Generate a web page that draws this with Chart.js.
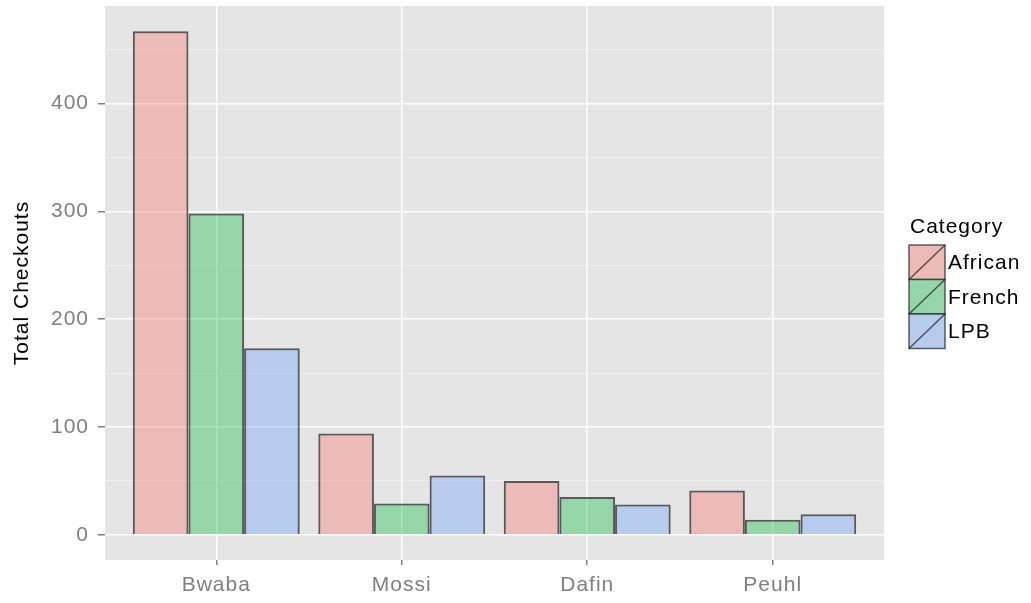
<!DOCTYPE html>
<html>
<head>
<meta charset="utf-8">
<script src="https://cdn.jsdelivr.net/npm/chart.js@4/dist/chart.umd.min.js"></script>
<style>
  html, body { margin: 0; padding: 0; background: #fff; }
  #wrap { width: 1031px; height: 603px; }
</style>
</head>
<body>
<div id="wrap"><canvas id="myChart" width="1031" height="603"></canvas></div>
<script>
// data
const categories = ["Bwaba", "Mossi", "Dafin", "Peuhl"];
const seriesNames = ["African", "French", "LPB"];
const african = [467, 94, 50, 41];
const french = [298, 29, 35, 14];
const lpb = [173, 55, 28, 19];
const yTicks = [0, 100, 200, 300, 400];
const yMinor = [50, 150, 250, 350, 450];

const fills = ["rgba(248,118,109,0.38)", "rgba(0,186,56,0.35)", "rgba(97,156,255,0.35)"];
const values = [african, french, lpb];
const font = "'Liberation Sans', Arial, sans-serif";
const edge = "rgba(30,30,30,0.7)";

// panel background + custom legend
const panelBg = {
  id: "panelBg",
  beforeLayout(chart) { chart.ctx.letterSpacing = "1px"; },
  beforeDraw(chart) {
    const { ctx, chartArea: a } = chart;
    ctx.letterSpacing = "1px";
    ctx.save();
    ctx.fillStyle = "#E5E5E5";
    ctx.fillRect(a.left, a.top, a.right - a.left, a.bottom - a.top);
    ctx.restore();
  },
  afterDraw(chart) {
    const ctx = chart.ctx;
    ctx.save();
    ctx.font = "21px " + font;
    ctx.fillStyle = "#000";
    ctx.textBaseline = "middle";
    ctx.fillText("Category", 910, 227);
    const x = 909, w = 36, h = 34.5;
    seriesNames.forEach((name, i) => {
      const y = 245 + i * h;
      ctx.fillStyle = "#E5E5E5";
      ctx.fillRect(x, y, w, h);
      ctx.fillStyle = fills[i];
      ctx.fillRect(x, y, w, h);
      ctx.strokeStyle = edge;
      ctx.lineWidth = 1.5;
      ctx.strokeRect(x, y, w, h);
      ctx.beginPath();
      ctx.moveTo(x, y + h);
      ctx.lineTo(x + w, y);
      ctx.stroke();
      ctx.fillStyle = "#000";
      ctx.fillText(name, x + w + 3, y + h / 2 + 1);
    });
    ctx.restore();
  }
};

new Chart(document.getElementById("myChart").getContext("2d"), {
  type: "bar",
  data: {
    datasets: seriesNames.map((name, s) => ({
      label: name,
      data: values[s].map((v, i) => ({ x: i + 1, y: v })),
      backgroundColor: fills[s],
      borderColor: edge,
      borderWidth: 2,
      categoryPercentage: 0.9,
      barPercentage: 1.0
    }))
  },
  options: {
    responsive: false,
    animation: false,
    layout: { padding: { top: 6, right: 147, left: 0, bottom: 0 } },
    plugins: { legend: { display: false }, tooltip: { enabled: false } },
    scales: {
      x: {
        type: "linear",
        min: 0.4,
        max: 4.6,
        offset: false,
        afterBuildTicks: (scale) => { scale.ticks = categories.map((c, i) => ({ value: i + 1 })); },
        afterFit: (scale) => { scale.height = 43; scale.paddingLeft = 0; scale.paddingRight = 0; },
        ticks: {
          callback: (v) => categories[v - 1] || "",
          color: "#7F7F7F",
          font: { family: font, size: 21 },
          padding: 8,
          maxRotation: 0
        },
        grid: { offset: false, color: "#ffffff", lineWidth: 1.5, tickLength: 5, tickColor: "#7F7F7F", drawOnChartArea: true },
        border: { display: false }
      },
      y: {
        min: -23.35,
        max: 490.35,
        afterBuildTicks: (scale) => {
          scale.ticks = yTicks.concat(yMinor).sort((a, b) => a - b).map(v => ({ value: v }));
        },
        afterFit: (scale) => { scale.width = 105; scale.paddingTop = 0; scale.paddingBottom = 0; },
        ticks: {
          callback: (v) => yTicks.includes(v) ? String(v) : "",
          color: "#7F7F7F",
          font: { family: font, size: 21 },
          padding: 9
        },
        grid: {
          color: (c) => yTicks.includes(c.tick && c.tick.value) ? "#ffffff" : "#F2F2F2",
          lineWidth: (c) => yTicks.includes(c.tick && c.tick.value) ? 1.5 : 0.8,
          tickColor: (c) => yTicks.includes(c.tick && c.tick.value) ? "#7F7F7F" : "rgba(0,0,0,0)",
          tickLength: 7
        },
        border: { display: false },
        title: {
          display: true,
          text: "Total Checkouts",
          color: "#000",
          font: { family: font, size: 21 },
          padding: { top: 10, bottom: 4 }
        }
      }
    }
  },
  plugins: [panelBg]
});
</script>
</body>
</html>
